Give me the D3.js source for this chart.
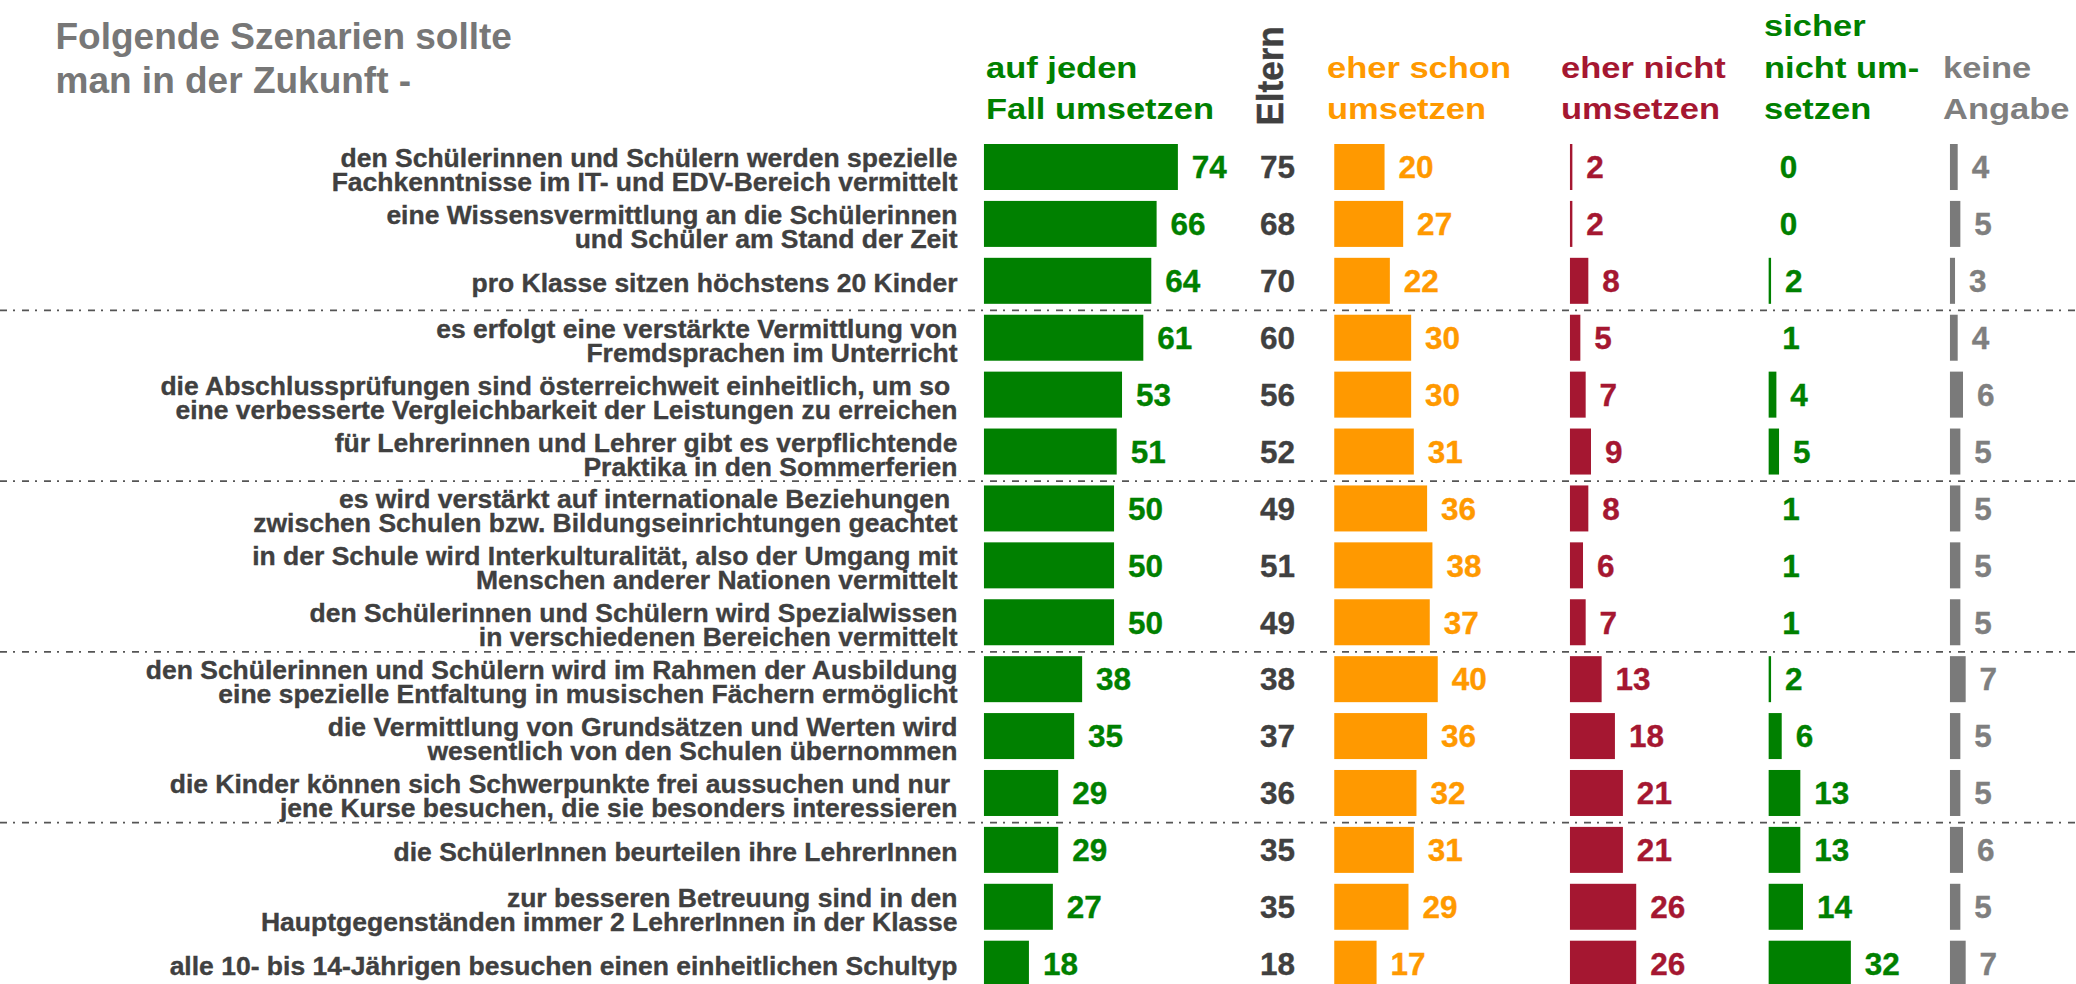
<!DOCTYPE html>
<html>
<head>
<meta charset="utf-8">
<script src="https://cdn.jsdelivr.net/npm/d3@7"></script>
<style>
  html, body { margin: 0; padding: 0; background: #fff; }
  svg { display: block; }
  text { font-family: "Liberation Sans", Arial, sans-serif; font-weight: bold; }
</style>
</head>
<body>
<svg id="chart" width="2076" height="984"></svg>
<script>
// ---------------- DATA ----------------
const titleLines = ["Folgende Szenarien sollte", "man in der Zukunft -"];

const categories = [
  ["den Schülerinnen und Schülern werden spezielle", "Fachkenntnisse im IT- und EDV-Bereich vermittelt"],
  ["eine Wissensvermittlung an die Schülerinnen", "und Schüler am Stand der Zeit"],
  ["pro Klasse sitzen höchstens 20 Kinder"],
  ["es erfolgt eine verstärkte Vermittlung von", "Fremdsprachen im Unterricht"],
  ["die Abschlussprüfungen sind österreichweit einheitlich, um so ", "eine verbesserte Vergleichbarkeit der Leistungen zu erreichen"],
  ["für Lehrerinnen und Lehrer gibt es verpflichtende", "Praktika in den Sommerferien"],
  ["es wird verstärkt auf internationale Beziehungen ", "zwischen Schulen bzw. Bildungseinrichtungen geachtet"],
  ["in der Schule wird Interkulturalität, also der Umgang mit", "Menschen anderer Nationen vermittelt"],
  ["den Schülerinnen und Schülern wird Spezialwissen", "in verschiedenen Bereichen vermittelt"],
  ["den Schülerinnen und Schülern wird im Rahmen der Ausbildung", "eine spezielle Entfaltung in musischen Fächern ermöglicht"],
  ["die Vermittlung von Grundsätzen und Werten wird", "wesentlich von den Schulen übernommen"],
  ["die Kinder können sich Schwerpunkte frei aussuchen und nur ", "jene Kurse besuchen, die sie besonders interessieren"],
  ["die SchülerInnen beurteilen ihre LehrerInnen"],
  ["zur besseren Betreuung sind in den", "Hauptgegenständen immer 2 LehrerInnen in der Klasse"],
  ["alle 10- bis 14-Jährigen besuchen einen einheitlichen Schultyp"]
];

const aufJedenFall  = [74, 66, 64, 61, 53, 51, 50, 50, 50, 38, 35, 29, 29, 27, 18];
const eltern        = [75, 68, 70, 60, 56, 52, 49, 51, 49, 38, 37, 36, 35, 35, 18];
const eherSchon     = [20, 27, 22, 30, 30, 31, 36, 38, 37, 40, 36, 32, 31, 29, 17];
const eherNicht     = [2, 2, 8, 5, 7, 9, 8, 6, 7, 13, 18, 21, 21, 26, 26];
const sicherNicht   = [0, 0, 2, 1, 4, 5, 1, 1, 1, 2, 6, 13, 13, 14, 32];
const keineAngabe   = [4, 5, 3, 4, 6, 5, 5, 5, 5, 7, 5, 5, 6, 5, 7];

const groupEnds = [2, 5, 8, 11]; // dashed separator after these rows

const headerGreen  = ["auf jeden", "Fall umsetzen"];
const headerEltern = "Eltern";
const headerOrange = ["eher schon", "umsetzen"];
const headerRed    = ["eher nicht", "umsetzen"];
const headerGreen2 = ["sicher", "nicht um-", "setzen"];
const headerGray   = ["keine", "Angabe"];

// ---------------- LAYOUT / STYLE ----------------
const W = 2076, H = 984;
const C = {
  green: "#008000", orange: "#FF9900", red: "#A51731", gray: "#7A7A7A",
  grayText: "#7F7F7F", dark: "#404040", title: "#777777", dash: "#555555"
};

const series = [
  { values: aufJedenFall, x0: 982.5,  fill: C.green,  text: C.green,    header: headerGreen,  hx: 986 },
  { values: eherSchon,    x0: 1332.8, fill: C.orange, text: C.orange,   header: headerOrange, hx: 1327 },
  { values: eherNicht,    x0: 1568.5, fill: C.red,    text: C.red,      header: headerRed,    hx: 1561 },
  { values: sicherNicht,  x0: 1767.2, fill: C.green,  text: C.green,    header: headerGreen2, hx: 1764 },
  { values: keineAngabe,  x0: 1948.5, fill: C.gray,   text: C.grayText, header: headerGray,   hx: 1943 }
];

const svg = d3.select("#chart");

// Row band scale
const rowStep = 56.907;
const padInner = 8 / rowStep;
const rowR0 = 142.55 - rowStep * padInner / 2;
const y = d3.scaleBand()
  .domain(d3.range(categories.length))
  .range([rowR0, rowR0 + rowStep * categories.length])
  .paddingInner(padInner)
  .paddingOuter(padInner / 2);

// Bar length scale (percent)
const x = d3.scaleLinear().domain([0, 100]).range([0, 266]);

// ---------------- TITLE ----------------
svg.append("g").selectAll("text").data(titleLines).join("text")
  .attr("x", 55.5)
  .attr("y", (d, i) => 49.3 + i * 44)
  .attr("fill", C.title)
  .attr("font-size", 37)
  .text(d => d);

// ---------------- HEADERS ----------------
const headerSize = 30, headerStretch = 1.15, headerLine = 41.2, headerBottom = 118.8;
series.forEach(s => {
  const n = s.header.length;
  svg.append("g").selectAll("text").data(s.header).join("text")
    .attr("transform", (d, i) => `translate(${s.hx},${headerBottom - (n - 1 - i) * headerLine}) scale(${headerStretch},1)`)
    .attr("fill", s.text)
    .attr("font-size", headerSize)
    .text(d => d);
});
svg.append("text")
  .attr("transform", "translate(1283,125.5) rotate(-90) scale(1,1.08)")
  .attr("fill", C.dark)
  .attr("font-size", 35)
  .attr("stroke", C.dark)
  .attr("stroke-width", 0.4)
  .text(headerEltern);

// ---------------- SEPARATORS ----------------
svg.append("g").selectAll("line").data(groupEnds).join("line")
  .attr("x1", 0).attr("x2", W)
  .attr("y1", d => (y(d) + y.bandwidth() + y(d + 1)) / 2 + 1.2)
  .attr("y2", d => (y(d) + y.bandwidth() + y(d + 1)) / 2 + 1.2)
  .attr("stroke", C.dash)
  .attr("stroke-width", 1.8)
  .attr("stroke-dasharray", "7,6,2,7");

// ---------------- CATEGORY LABELS ----------------
const labelG = svg.append("g");
categories.forEach((lines, i) => {
  const c = y(i) + y.bandwidth() / 2;
  const t = labelG.append("text")
    .attr("x", 957.5)
    .attr("text-anchor", "end")
    .attr("fill", C.dark)
    .attr("stroke", C.dark)
    .attr("stroke-width", 0.35)
    .attr("font-size", 26.5)
    .attr("xml:space", "preserve")
    .style("white-space", "pre");
  lines.forEach((ln, k) => {
    t.append("tspan")
      .attr("x", 957.5)
      .attr("y", lines.length === 1 ? c + 11.5 : c + k * 24)
      .text(ln);
  });
});

// ---------------- BARS + VALUE LABELS ----------------
const valueSize = 31.5;
series.forEach(s => {
  const g = svg.append("g");
  g.selectAll("rect").data(s.values).join("rect")
    .attr("x", s.x0)
    .attr("y", (d, i) => y(i))
    .attr("width", d => x(d))
    .attr("height", y.bandwidth())
    .attr("fill", s.fill)
    .attr("stroke", "#ffffff")
    .attr("stroke-width", 2.9);
  g.selectAll("text").data(s.values).join("text")
    .attr("x", d => s.x0 + x(d) + 12.5)
    .attr("y", (d, i) => y(i) + y.bandwidth() / 2 + 11.3)
    .attr("fill", s.text)
    .attr("stroke", s.text)
    .attr("stroke-width", 0.35)
    .attr("font-size", valueSize)
    .text(d => d);
});

// Eltern column values
svg.append("g").selectAll("text").data(eltern).join("text")
  .attr("x", 1277.5)
  .attr("y", (d, i) => y(i) + y.bandwidth() / 2 + 11.3)
  .attr("text-anchor", "middle")
  .attr("fill", C.dark)
  .attr("stroke", C.dark)
  .attr("stroke-width", 0.35)
  .attr("font-size", valueSize)
  .text(d => d);
</script>
</body>
</html>
